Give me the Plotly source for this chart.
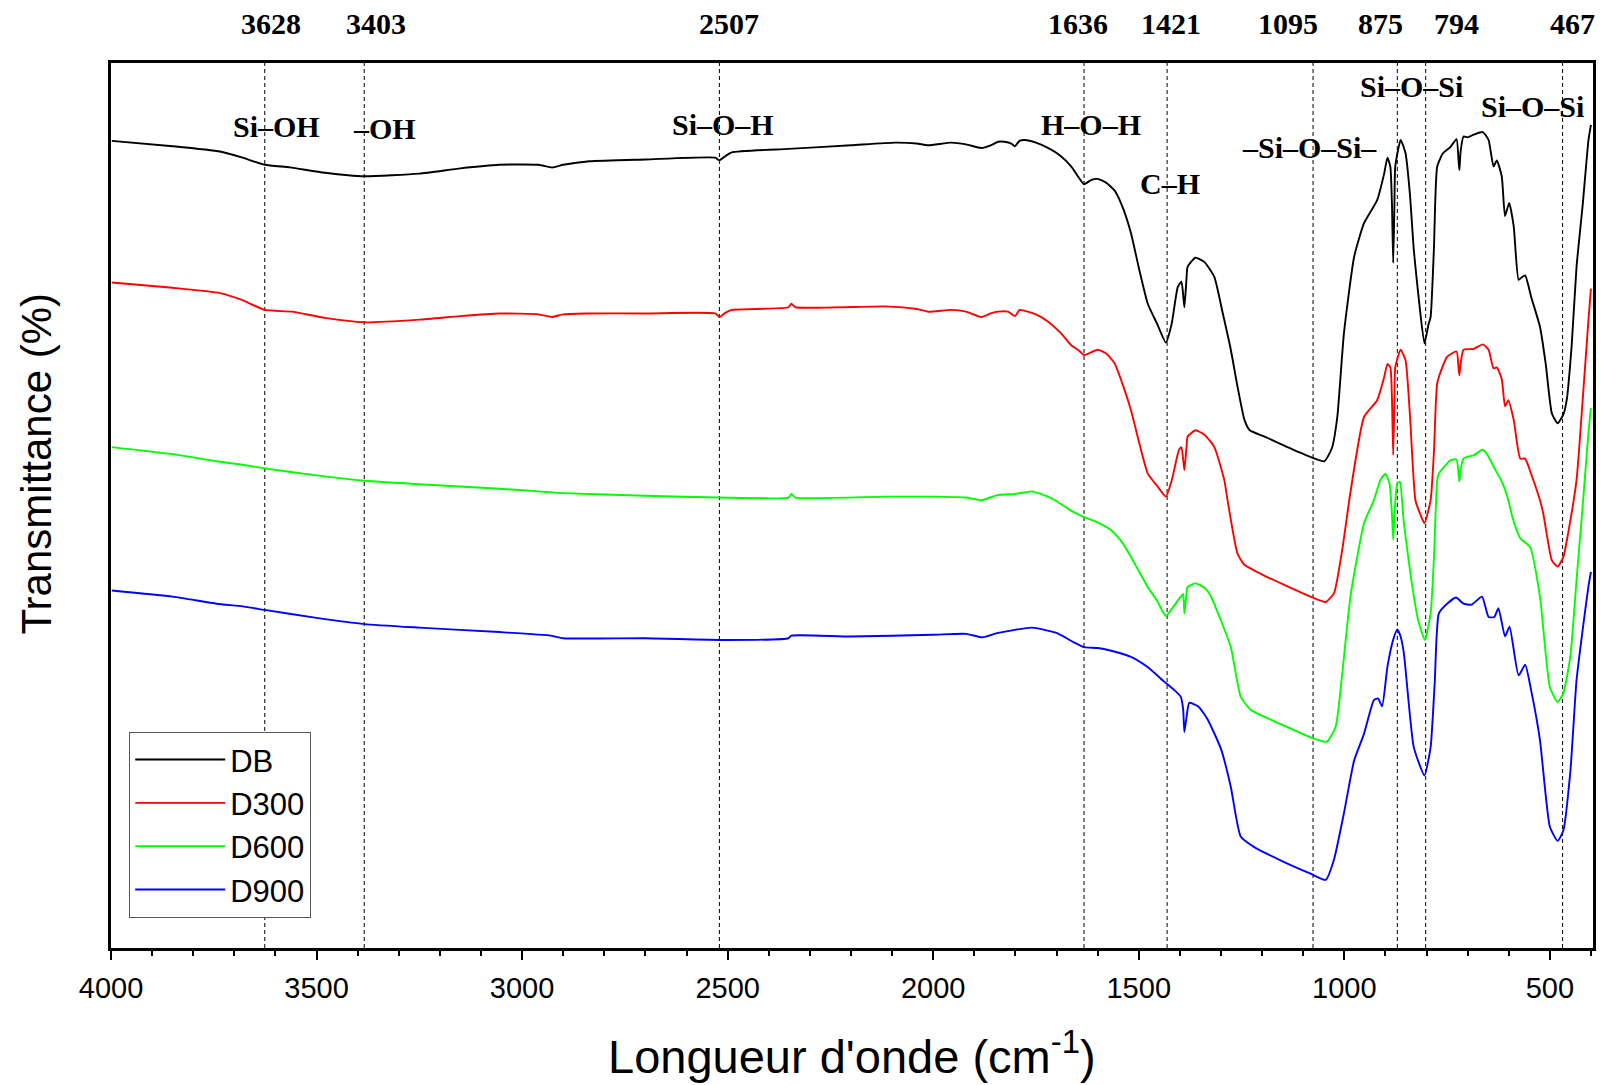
import plotly.graph_objects as go

# ---------------- data ----------------
wn_DB = [3998, 3850, 3735, 3680, 3626, 3565, 3480, 3384, 3250, 3150, 3055, 2960, 2927, 2900,
         2836, 2700, 2530, 2520, 2505, 2490, 2352, 2200, 2093, 2040, 2012, 1956, 1920, 1883,
         1860, 1842, 1826, 1810, 1801, 1790, 1777, 1750, 1721, 1690, 1664, 1645, 1633, 1615,
         1600, 1580, 1559, 1540, 1519, 1500, 1478, 1455, 1434, 1420, 1405, 1396, 1389, 1384,
         1381, 1362, 1340, 1316, 1296, 1276, 1260, 1243, 1230, 1195, 1114, 1049, 1030, 1017,
         1001, 976, 952, 920, 903, 895, 888, 884, 881, 878, 876, 863, 851, 840, 831, 818, 805,
         795, 790, 782, 774, 760, 742, 727, 722, 720, 717, 710, 700, 685, 663, 649, 637, 629,
         617, 609, 599, 588, 576, 568, 560, 545, 524, 510, 495, 481, 467, 459, 447, 435, 420,
         406, 400]
T_DB = [91.2, 90.6, 90.0, 89.3, 88.5, 88.2, 87.6, 87.2, 87.5, 88.1, 88.5, 88.5, 88.2, 88.5,
        88.9, 89.1, 89.3, 89.0, 89.5, 89.9, 90.3, 90.7, 91.0, 90.9, 90.7, 91.0, 90.8, 90.4,
        90.7, 91.1, 91.1, 90.9, 90.6, 91.2, 91.3, 91.0, 90.4, 89.5, 88.3, 87.0, 86.3, 86.8,
        86.9, 86.5, 85.6, 83.8, 80.8, 76.9, 72.8, 70.5, 68.4, 70.5, 74.7, 75.3, 72.4, 75.5,
        77.0, 78.0, 77.5, 75.8, 71.8, 67.6, 63.5, 59.7, 58.5, 57.8, 56.1, 55.0, 56.5, 60.0,
        69.4, 78.1, 81.9, 84.5, 87.5, 89.3, 88.3, 84.0, 77.4, 84.0, 88.3, 91.3, 89.8, 85.0,
        78.9, 73.0, 68.3, 70.5, 71.3, 79.0, 88.3, 89.8, 90.5, 91.4, 89.0, 87.9, 90.0, 91.7,
        91.6, 91.9, 92.2, 91.3, 88.3, 89.0, 87.2, 82.7, 84.2, 81.6, 75.5, 75.8, 76.0, 73.5,
        70.2, 66.0, 60.4, 59.3, 60.3, 61.9, 68.0, 77.0, 84.0, 91.3, 93.0]

wn_D300 = [3998, 3850, 3735, 3680, 3626, 3560, 3480, 3384, 3250, 3150, 3055, 2960, 2927, 2900,
           2845, 2700, 2530, 2520, 2505, 2490, 2352, 2345, 2335, 2117, 2040, 2012, 1956, 1920,
           1883, 1860, 1842, 1818, 1801, 1790, 1777, 1750, 1721, 1690, 1664, 1645, 1633, 1600,
           1580, 1559, 1540, 1519, 1500, 1478, 1455, 1434, 1420, 1402, 1396, 1389, 1384, 1381,
           1362, 1340, 1316, 1292, 1284, 1260, 1243, 1200, 1082, 1045, 1025, 1005, 985, 952,
           920, 903, 895, 888, 884, 881, 878, 876, 863, 851, 840, 827, 815, 805, 790, 782, 774,
           760, 750, 727, 722, 720, 717, 710, 685, 663, 649, 637, 629, 617, 609, 601, 588, 572,
           560, 545, 524, 516, 495, 481, 467, 455, 435, 420, 406, 400]
T_D300 = [75.2, 74.6, 74.0, 73.2, 72.1, 71.9, 71.2, 70.7, 71.0, 71.4, 71.7, 71.6, 71.3, 71.6,
          71.7, 71.7, 71.7, 71.3, 71.8, 72.1, 72.4, 72.8, 72.4, 72.5, 72.2, 71.9, 72.1, 71.9,
          71.3, 71.7, 71.9, 71.9, 71.4, 72.1, 72.0, 71.6, 70.8, 69.5, 68.1, 67.5, 67.0, 67.6,
          67.2, 66.1, 63.8, 60.8, 57.3, 53.6, 52.2, 51.0, 52.8, 56.3, 56.6, 54.0, 56.5, 57.8,
          58.5, 58.0, 56.6, 52.9, 50.6, 44.6, 43.3, 42.2, 39.7, 39.1, 40.1, 45.0, 51.5, 60.0,
          61.9, 64.5, 66.0, 65.6, 62.0, 55.7, 62.0, 65.6, 67.6, 66.4, 60.0, 50.6, 49.0, 48.0,
          50.6, 56.0, 63.8, 65.8, 66.8, 67.4, 65.5, 64.7, 66.0, 67.6, 67.7, 68.2, 67.6, 65.5,
          65.6, 64.3, 61.2, 61.9, 59.7, 55.3, 55.3, 53.5, 50.6, 49.1, 43.8, 43.1, 44.2, 47.0,
          52.9, 62.0, 71.0, 74.5]

wn_D600 = [3998, 3850, 3743, 3680, 3626, 3500, 3384, 3250, 3055, 2900, 2700, 2520, 2352, 2345,
           2335, 2117, 2000, 1920, 1883, 1842, 1800, 1760, 1721, 1690, 1664, 1633, 1600, 1567,
           1540, 1519, 1500, 1478, 1455, 1434, 1420, 1398, 1392, 1389, 1384, 1381, 1362, 1340,
           1324, 1300, 1276, 1252, 1227, 1150, 1082, 1043, 1021, 1005, 985, 952, 928, 912, 900,
           890, 884, 881, 878, 871, 865, 855, 837, 820, 804, 790, 782, 774, 770, 742, 727, 722,
           720, 717, 710, 685, 663, 650, 637, 620, 609, 601, 590, 572, 548, 524, 500, 481, 467,
           450, 435, 420, 406, 400]
T_D600 = [56.6, 55.8, 55.0, 54.6, 54.2, 53.4, 52.8, 52.4, 51.9, 51.4, 51.1, 50.9, 50.9, 51.3,
          50.9, 51.0, 51.0, 50.9, 50.6, 51.2, 51.3, 51.6, 51.0, 50.2, 49.4, 48.7, 48.1, 47.2,
          45.8, 44.2, 42.6, 40.8, 39.2, 37.5, 38.3, 39.7, 40.0, 37.8, 40.0, 40.8, 41.2, 40.7,
          39.7, 37.0, 34.0, 28.4, 26.9, 25.2, 23.8, 23.3, 25.0, 31.0, 39.7, 48.0, 50.6, 52.9,
          53.6, 52.5, 49.0, 46.1, 49.0, 52.5, 52.7, 48.0, 41.6, 37.0, 34.8, 37.8, 44.0, 52.9,
          53.6, 55.1, 55.2, 53.5, 52.7, 54.0, 55.3, 55.7, 56.3, 55.6, 54.4, 53.0, 51.8, 50.6,
          48.5, 46.3, 45.3, 39.7, 29.5, 27.8, 28.8, 33.0, 41.6, 50.0, 58.3, 61.0]

wn_D900 = [3998, 3850, 3743, 3680, 3626, 3500, 3384, 3250, 3055, 2930, 2900, 2700, 2507, 2352,
           2345, 2200, 2000, 1920, 1880, 1842, 1760, 1700, 1660, 1633, 1600, 1560, 1519, 1480,
           1438, 1410, 1398, 1392, 1389, 1384, 1377, 1355, 1332, 1300, 1276, 1252, 1219, 1150,
           1082, 1045, 1025, 1001, 976, 952, 928, 918, 908, 895, 880, 871, 863, 855, 831, 805,
           790, 780, 770, 750, 728, 710, 690, 665, 649, 635, 625, 609, 598, 576, 560, 545, 524,
           500, 481, 467, 450, 435, 420, 406, 400]
T_D900 = [40.4, 39.7, 38.9, 38.6, 38.2, 37.3, 36.6, 36.2, 35.7, 35.3, 35.0, 35.0, 34.8, 35.0,
          35.3, 35.2, 35.4, 35.5, 35.1, 35.6, 36.2, 35.6, 34.6, 34.0, 33.9, 33.5, 32.9, 31.8,
          30.1, 29.0, 28.4, 27.0, 24.4, 26.0, 27.7, 27.3, 25.8, 22.5, 18.2, 12.6, 11.4, 9.8,
          8.4, 7.7, 10.0, 15.2, 21.2, 24.2, 28.0, 28.2, 27.3, 31.8, 35.0, 36.0, 35.2, 33.3,
          22.7, 19.5, 22.7, 30.0, 37.8, 38.9, 39.6, 38.9, 38.8, 39.7, 37.4, 37.4, 38.4, 35.2,
          36.3, 30.8, 32.0, 29.0, 23.5, 13.7, 12.1, 13.3, 20.0, 30.3, 36.0, 40.9, 42.5]

series_names = ["DB", "D300", "D600", "D900"]
series_colors = ["#000000", "#ff0000", "#00ff00", "#0000ff"]

# band markers (dashed lines) and their labels
band_line_wn = [3626, 3384, 2520, 1633, 1431, 1076, 871, 802, 469]
band_top_text = ["3628", "3403", "2507", "1636", "1421", "1095", "875", "794", "467"]
band_top_wn = [3612, 3356, 2496, 1648, 1422, 1138, 913, 726, 445]

group_text = ["Si–OH", "–OH", "Si–O–H", "H–O–H", "C–H", "–Si–O–Si–", "Si–O–Si", "Si–O–Si"]
group_wn = [3597, 3334, 2511, 1617, 1423, 1084, 836, 543]
group_T = [92.8, 92.6, 93.0, 93.0, 86.4, 90.4, 97.4, 95.1]

x_ticks = [4000, 3500, 3000, 2500, 2000, 1500, 1000, 500]

# ---------------- figure ----------------
fig = go.Figure()
all_x = [wn_DB, wn_D300, wn_D600, wn_D900]
all_y = [T_DB, T_D300, T_D600, T_D900]
for name, col, xs, ys in zip(series_names, series_colors, all_x, all_y):
    fig.add_trace(go.Scatter(x=xs, y=ys, mode="lines", name=name,
                             line=dict(color=col, width=1.9, shape="spline", smoothing=0.5)))

for w in band_line_wn:
    fig.add_shape(type="line", xref="x", yref="paper", x0=w, x1=w, y0=0, y1=1,
                  line=dict(color="black", width=1, dash="4px,3px"), layer="below")

serif = "Liberation Serif, Times New Roman, serif"
sans = "Liberation Sans, Arial, sans-serif"

for t, w in zip(band_top_text, band_top_wn):
    fig.add_annotation(x=w, y=1.045, xref="x", yref="paper", text="<b>%s</b>" % t,
                       showarrow=False, font=dict(family=serif, size=30, color="black"),
                       xanchor="center", yanchor="middle")

for t, w, v in zip(group_text, group_wn, group_T):
    fig.add_annotation(x=w, y=v, xref="x", yref="y", text="<b>%s</b>" % t,
                       showarrow=False, font=dict(family=serif, size=30, color="black"),
                       xanchor="center", yanchor="middle")

fig.add_annotation(x=0.5, y=-0.119, xref="paper", yref="paper",
                   text="Longueur d'onde (cm<sup>-1</sup>)", showarrow=False,
                   font=dict(family=sans, size=47, color="black"),
                   xanchor="center", yanchor="middle")
fig.add_annotation(x=-0.0503, y=0.548, xref="paper", yref="paper",
                   text="Transmittance (%)", showarrow=False, textangle=-90,
                   font=dict(family=sans, size=42, color="black"),
                   xanchor="center", yanchor="middle")

fig.update_layout(
    width=1605, height=1085,
    margin=dict(l=111, r=9, t=63, b=137),
    paper_bgcolor="white", plot_bgcolor="white",
    showlegend=True,
    legend=dict(x=0.0123, y=0.034, xanchor="left", yanchor="bottom",
                bgcolor="white", bordercolor="#555555", borderwidth=1,
                font=dict(family=sans, size=31, color="black"),
                itemwidth=90, tracegroupgap=0),
    xaxis=dict(range=[4000, 395], tickvals=x_ticks, ticks="outside", ticklen=9,
               tickwidth=2, tickcolor="black", showgrid=False, zeroline=False,
               showline=True, linewidth=2.5, linecolor="black", mirror=True,
               tickfont=dict(family=sans, size=29, color="black"),
               ticklabelstandoff=3,
               minor=dict(dtick=100, ticks="outside", ticklen=5, tickwidth=1.5,
                          tickcolor="black", showgrid=False)),
    yaxis=dict(range=[0, 100], showticklabels=False, ticks="", showgrid=False,
               zeroline=False, showline=True, linewidth=2.5, linecolor="black",
               mirror=True),
)

fig.write_html("out.html")
